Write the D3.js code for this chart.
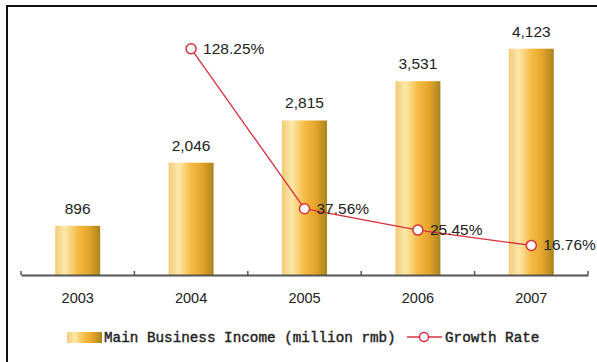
<!DOCTYPE html>
<html>
<head>
<meta charset="utf-8">
<script src="https://cdn.jsdelivr.net/npm/d3@7"></script>
<style>
  body { margin: 0; background: #fff; }
  svg { display: block; }
</style>
</head>
<body>
<div id="chart"></div>
<script>
const years = ['2003', '2004', '2005', '2006', '2007'];
const income = [896, 2046, 2815, 3531, 4123];
const growthYears = ['2004', '2005', '2006', '2007'];
const growth = [128.25, 37.56, 25.45, 16.76];

const W = 597, H = 362;
const svg = d3.select('#chart').append('svg')
    .attr('width', W)
    .attr('height', H);

// frame (cut off on right and bottom like the original)
svg.append('path')
    .attr('d', `M7,${H + 5} V6 H${W + 5}`)
    .attr('fill', 'none')
    .attr('stroke', '#111')
    .attr('stroke-width', 2);

const defs = svg.append('defs');
const grad = defs.append('linearGradient')
    .attr('id', 'gold')
    .attr('x1', '0%').attr('x2', '100%')
    .attr('y1', '0%').attr('y2', '0%');
[['0%', '#f1cc78'], ['22%', '#fde8aa'], ['50%', '#f6bb44'], ['75%', '#e4a42a'], ['100%', '#a8851e']]
    .forEach(([o, c]) => grad.append('stop').attr('offset', o).attr('stop-color', c));

const x = d3.scaleBand()
    .domain(years)
    .range([21, 588])
    .paddingInner(0)
    .paddingOuter(0);

const y = d3.scaleLinear().domain([0, 4500]).range([275, 28]);
const yg = d3.scaleLinear().domain([0, 140]).range([275, 28]);

const barW = 45;

svg.selectAll('rect.bar')
    .data(income)
    .join('rect')
    .attr('class', 'bar')
    .attr('x', (d, i) => x(years[i]) + x.bandwidth() / 2 - barW / 2)
    .attr('y', d => y(d))
    .attr('width', barW)
    .attr('height', d => y(0) - y(d))
    .attr('fill', 'url(#gold)');

svg.selectAll('text.val')
    .data(income)
    .join('text')
    .attr('class', 'val')
    .attr('x', (d, i) => x(years[i]) + x.bandwidth() / 2)
    .attr('y', d => y(d) - 12)
    .attr('text-anchor', 'middle')
    .style('font-family', '"Liberation Sans", Arial, sans-serif')
    .style('font-size', '15.5px')
    .style('fill', '#222')
    .text(d => d3.format(',')(d));

// x axis
const axis = svg.append('g')
    .attr('transform', 'translate(0,275)')
    .call(d3.axisBottom(x).tickSize(0).tickPadding(18));
axis.select('.domain').attr('stroke', '#555').attr('stroke-width', 2);
axis.selectAll('text')
    .style('font-family', '"Liberation Sans", Arial, sans-serif')
    .style('font-size', '14.5px')
    .style('fill', '#222');
axis.selectAll('line.edge')
    .data(d3.range(years.length + 1))
    .join('line')
    .attr('class', 'edge')
    .attr('x1', i => 21 + i * x.bandwidth())
    .attr('x2', i => 21 + i * x.bandwidth())
    .attr('y1', 0)
    .attr('y2', -4)
    .attr('stroke', '#555')
    .attr('stroke-width', 1.5);

// growth line
const gx = (d, i) => x(growthYears[i]) + x.bandwidth() / 2;
const line = d3.line()
    .x(gx)
    .y(d => yg(d));

svg.append('path')
    .datum(growth)
    .attr('fill', 'none')
    .attr('stroke', '#d8303c')
    .attr('stroke-width', 1.3)
    .attr('d', line);

svg.selectAll('circle.pt')
    .data(growth)
    .join('circle')
    .attr('class', 'pt')
    .attr('cx', gx)
    .attr('cy', d => yg(d))
    .attr('r', 5)
    .attr('fill', '#fff')
    .attr('stroke', '#d8303c')
    .attr('stroke-width', 1.5);

svg.selectAll('text.pct')
    .data(growth)
    .join('text')
    .attr('class', 'pct')
    .attr('x', (d, i) => gx(d, i) + 12)
    .attr('y', d => yg(d) + 5)
    .style('font-family', '"Liberation Sans", Arial, sans-serif')
    .style('font-size', '15.5px')
    .style('fill', '#222')
    .text(d => d.toFixed(2) + '%');

// legend
const legend = svg.append('g');
legend.append('rect')
    .attr('x', 67).attr('y', 332)
    .attr('width', 35).attr('height', 11)
    .attr('fill', 'url(#gold)');
legend.append('text')
    .attr('x', 104).attr('y', 342)
    .style('font-family', '"Liberation Mono", "DejaVu Sans Mono", monospace')
    .style('font-size', '14.3px')
    .style('fill', '#222')
    .style('stroke', '#222')
    .style('stroke-width', 0.4)
    .text('Main Business Income (million rmb)');
legend.append('line')
    .attr('x1', 407).attr('x2', 442)
    .attr('y1', 337).attr('y2', 337)
    .attr('stroke', '#d8303c')
    .attr('stroke-width', 1.3);
legend.append('circle')
    .attr('cx', 424).attr('cy', 337).attr('r', 4.5)
    .attr('fill', '#fff')
    .attr('stroke', '#d8303c')
    .attr('stroke-width', 1.5);
legend.append('text')
    .attr('x', 445).attr('y', 342)
    .style('font-family', '"Liberation Mono", "DejaVu Sans Mono", monospace')
    .style('font-size', '14.3px')
    .style('fill', '#222')
    .style('stroke', '#222')
    .style('stroke-width', 0.4)
    .text('Growth Rate');
</script>
</body>
</html>
